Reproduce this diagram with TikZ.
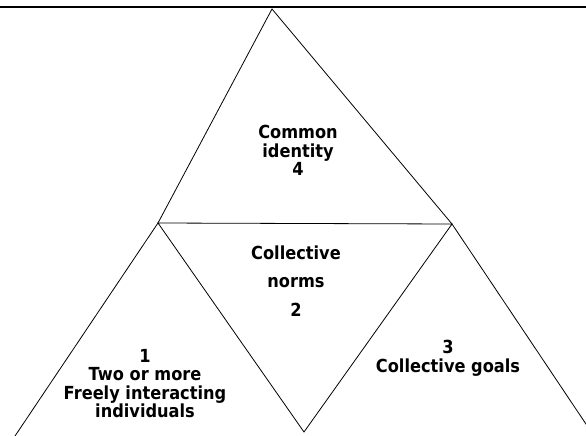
\documentclass[tikz,border=0pt]{standalone}
\usepackage{fontspec}
\setmainfont{DejaVu Sans}[FakeStretch=0.9]
\begin{document}
\begin{tikzpicture}[x=1pt,y=-1pt,
  edge/.style={draw=black,line width=0.8pt,line join=miter},
  rule/.style={draw=black,line width=1.3pt},
  label/.style={font=\bfseries\fontsize{18}{18.5}\selectfont,align=center,inner sep=0pt,anchor=north}]
  \useasboundingbox (0,0) rectangle (586,436);

  % corner points of the pyramid
  \coordinate (ruleL) at (0,7);
  \coordinate (ruleR) at (586,7);
  \coordinate (apex) at (272,9);
  \coordinate (midL) at (158,223);
  \coordinate (midR) at (452,224);
  \coordinate (bot) at (304,432);
  \coordinate (outL) at (15,436);
  \coordinate (outR) at (594,436);

  % heading rule
  \draw[rule] (ruleL) -- (ruleR);

  % upper triangle
  \draw[edge] (midL) -- (apex) -- (midR);
  % inverted middle triangle
  \draw[edge] (midL) -- (midR) -- (bot) -- cycle;
  % outer flanks
  \draw[edge] (midL) -- (outL);
  \draw[edge] (midR) -- (outR);

  % labels
  \node[label] (identity) at (298,125.4) {Common\\identity\\4};
  \node[label,font=\bfseries\fontsize{18}{28.5}\selectfont] (norms) at (296,245.4) {Collective\\norms\\2};
  \node[label,font=\bfseries\fontsize{18}{18.5}\selectfont] (members) at (145,349) {1\\Two or more\\Freely interacting\\individuals};
  \node[label,font=\bfseries\fontsize{18}{19}\selectfont] (goals) at (448,340) {3\\Collective goals};
\end{tikzpicture}
\end{document}
